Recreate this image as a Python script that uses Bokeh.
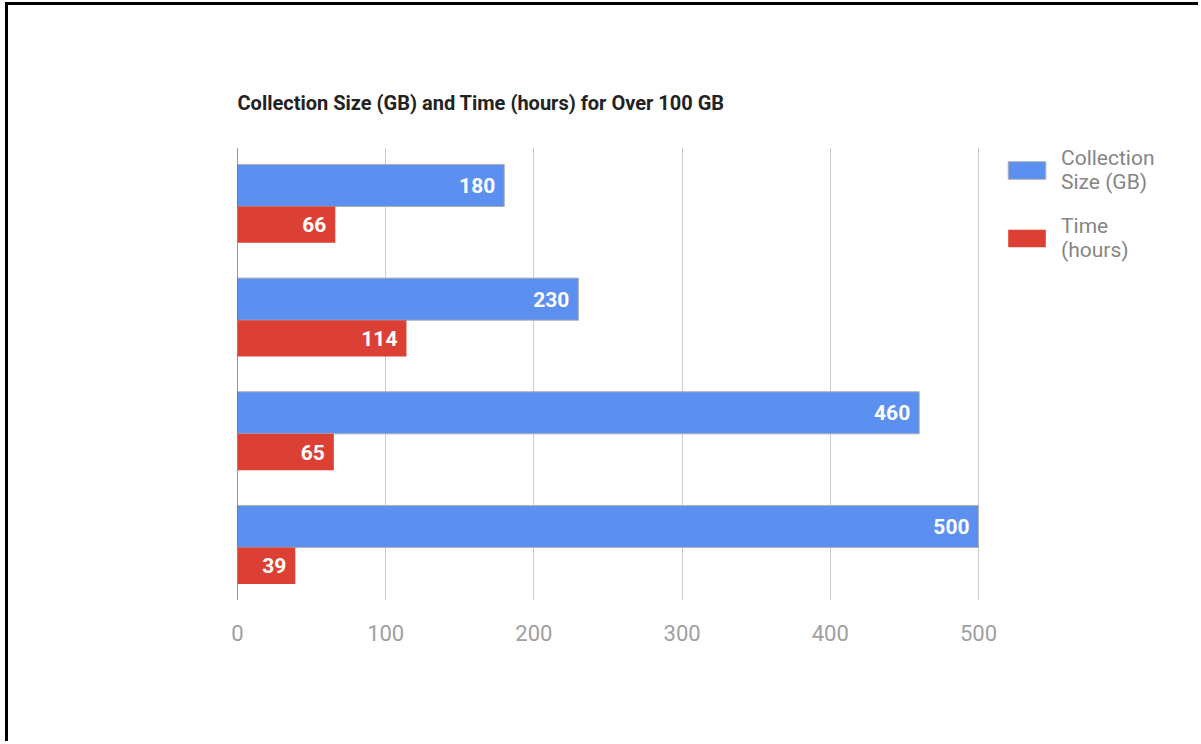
from bokeh.plotting import figure
from bokeh.models import Range1d, FixedTicker, Span, Legend, LegendItem, ColumnDataSource
from bokeh.core.properties import value
from bokeh.embed import file_html
from bokeh.resources import INLINE

# ---- data ----
groups = ["Collection 1", "Collection 2", "Collection 3", "Collection 4"]
size_gb = [180, 230, 460, 500]
time_hours = [66, 114, 65, 39]
x_ticks = [0, 100, 200, 300, 400, 500]
title_text = "Collection Size (GB) and Time (hours) for Over 100 GB"
series_names = ["Collection\nSize (GB)", "Time\n(hours)"]

BLUE = "#5b8ff0"
RED = "#dc4035"

pos = list(range(len(groups)))
blue_src = ColumnDataSource(dict(y=[p - 0.185 for p in pos], x=size_gb,
                                 lab=[str(v) for v in size_gb]))
red_src = ColumnDataSource(dict(y=[p + 0.16 for p in pos], x=time_hours,
                                lab=[str(v) for v in time_hours]))

# frame spans the legend area too; value axis 0..500 covers 741 of 964 px
x_max = 500 * 964 / 741

p = figure(width=1193, height=739, output_backend="svg", toolbar_location=None,
           x_range=Range1d(0, x_max), y_range=Range1d(3.466, -0.519),
           min_border_left=229, min_border_right=0, min_border_top=142,
           min_border_bottom=144)
p.styles = {"margin-left": "5px", "margin-top": "2px",
            "border-top": "3px solid black", "border-left": "3px solid black"}

p.title.text = title_text
p.title.text_font = "Roboto"
p.title.text_font_size = "20px"
p.title.text_font_style = "bold"
p.title.text_color = "#222222"
p.title.align = "left"
p.title.standoff = 65

p.outline_line_color = None
p.background_fill_color = "white"
p.border_fill_color = "white"

rb = p.hbar(y="y", right="x", left=0, height=0.37, source=blue_src,
            fill_color=BLUE, line_color="#b0b0b0", line_width=1)
rr = p.hbar(y="y", right="x", left=0, height=0.32, source=red_src,
            fill_color=RED, line_color=None)

for src in (blue_src, red_src):
    p.text(x="x", y="y", text="lab", source=src, x_offset=-9,
           text_align="right", text_baseline="middle",
           text_font=value("Roboto"), text_font_size="21px",
           text_font_style="bold", text_color="white")

p.add_layout(Span(location=0, dimension="height", line_color="#333333", line_width=1))

p.yaxis.visible = False
p.ygrid.grid_line_color = None
p.xgrid.grid_line_color = "#cccccc"
p.xgrid.ticker = FixedTicker(ticks=x_ticks)
p.xaxis.ticker = FixedTicker(ticks=x_ticks)
p.xaxis.axis_line_color = None
p.xaxis.major_tick_line_color = None
p.xaxis.minor_tick_line_color = None
p.xaxis.major_label_standoff = 18
p.xaxis.major_label_text_font = "Roboto"
p.xaxis.major_label_text_font_size = "22px"
p.xaxis.major_label_text_color = "#a0a0a0"

legend = Legend(items=[LegendItem(label=series_names[0], renderers=[rb]),
                       LegendItem(label=series_names[1], renderers=[rr])],
                location=(766, 338), orientation="vertical",
                glyph_width=47, glyph_height=22, spacing=20, padding=0, margin=0,
                label_text_font="Roboto", label_text_font_size="21px",
                label_text_color="#858585",
                label_standoff=11, border_line_color=None, background_fill_alpha=0)
p.add_layout(legend)

open("out.html", "w").write(file_html(p, INLINE))
